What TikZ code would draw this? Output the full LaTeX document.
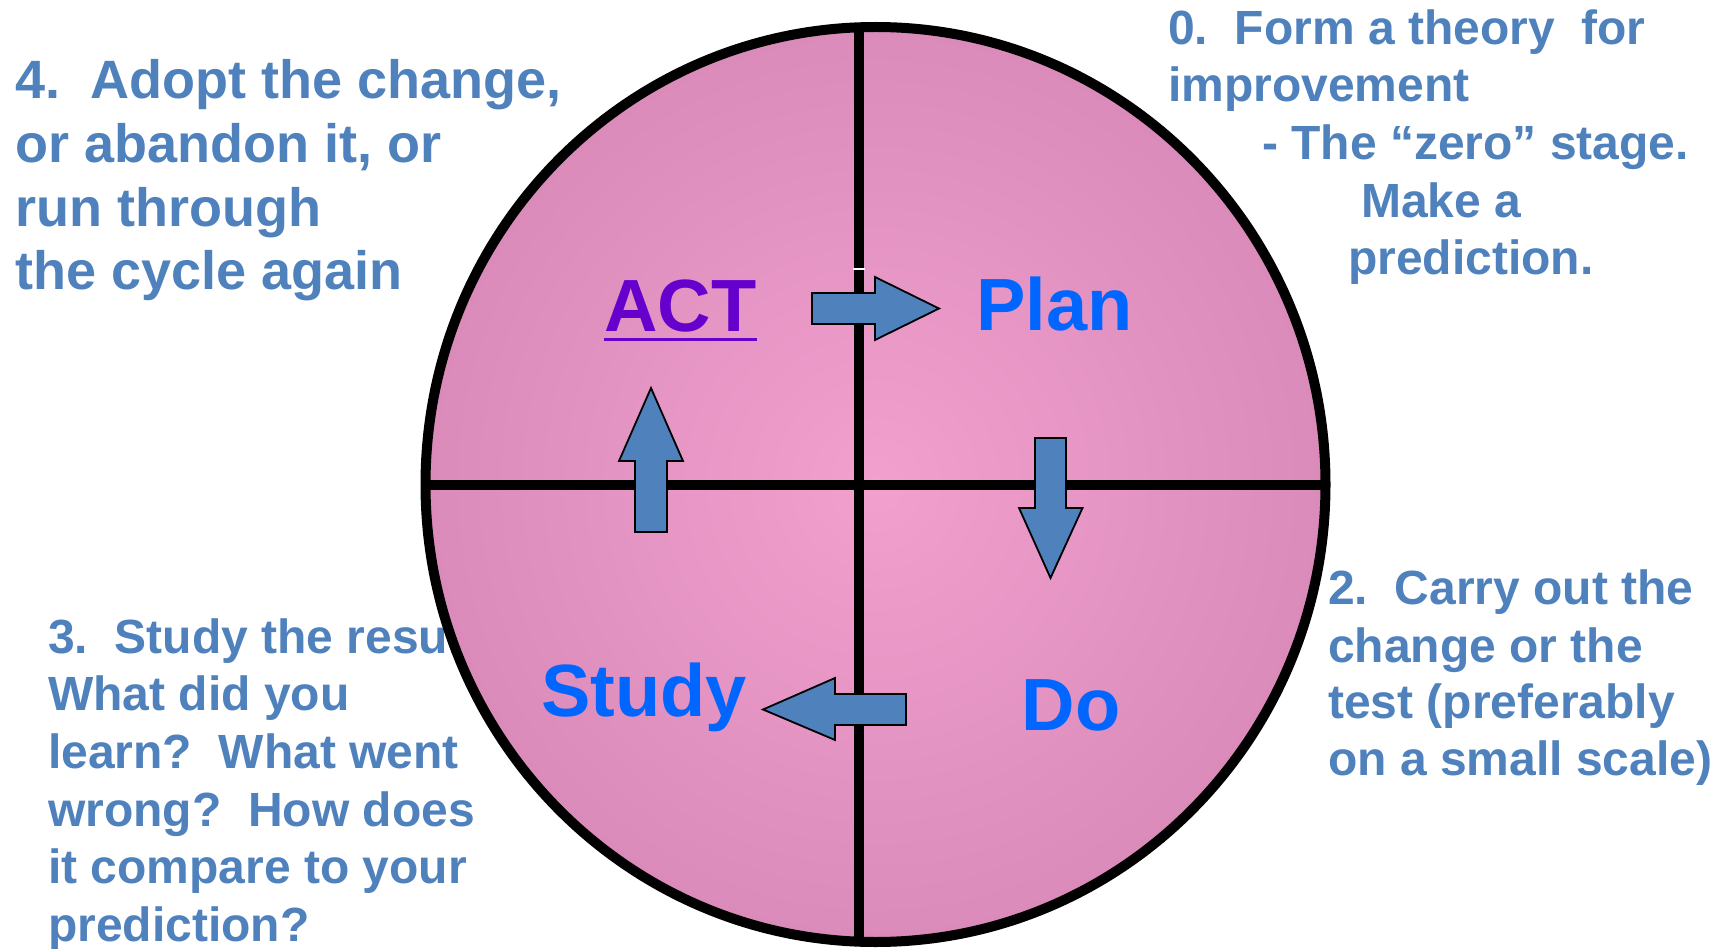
\documentclass[tikz,border=0pt]{standalone}
\usepackage{fontspec}
\setmainfont{Liberation Sans}
\definecolor{noteblue}{RGB}{79,129,189}
\definecolor{arrowblue}{RGB}{79,129,189}
\definecolor{stageblue}{RGB}{0,102,255}
\definecolor{actpurple}{RGB}{102,0,204}
\definecolor{pinkin}{RGB}{242,160,206}
\definecolor{pinkout}{RGB}{218,139,186}
\begin{document}
\begin{tikzpicture}[x=1pt,y=-1pt,
  note/.style={anchor=base west, inner sep=0pt, text=noteblue,
    font=\bfseries\fontsize{48}{57}\selectfont},
  bignote/.style={note, font=\bfseries\fontsize{54}{64}\selectfont},
  stage/.style={anchor=base, inner sep=0pt, font=\bfseries\fontsize{74}{80}\selectfont},
  blockarrow/.style={draw=black, line width=1.8pt, fill=arrowblue, line join=miter},
  divider/.style={draw=black, line width=10pt},
  rim/.style={draw=black, line width=10pt}]
\useasboundingbox (0,0) rectangle (1726,949);
\fill[white] (0,0) rectangle (1726,949);

% step 3 text sits partly beneath the wheel
\node[note] (s3a) at (48,653) {3.\ \ Study the results.};
\node[note] (s3b) at (48,710) {What did you};
\node[note] (s3c) at (48,768) {learn?\ \ What went};
\node[note] (s3d) at (48,826) {wrong?\ \ How does};
\node[note] (s3e) at (48,883) {it compare to your};
\node[note] (s3f) at (48,941) {prediction?};

% the wheel
\shade[inner color=pinkin, outer color=pinkout]
  (875.5,484.5) ellipse [x radius=450, y radius=457.5];
\begin{scope}
  \clip (875.5,484.5) ellipse [x radius=450, y radius=457.5];
  \draw[divider] (859,0) -- (859,949);
  \draw[divider] (400,485) -- (1350,485);
\end{scope}
\draw[white, line width=1.2pt] (853,269) -- (865,269);
\draw[rim] (875.5,484.5) ellipse [x radius=450, y radius=457.5];

% block arrows between the quadrants
\draw[blockarrow] (812,293) -- (875,293) -- (875,277) -- (939,308.5)
  -- (875,340) -- (875,324) -- (812,324) -- cycle;
\draw[blockarrow] (1035,438) -- (1066,438) -- (1066,508) -- (1082.5,508)
  -- (1050.5,578) -- (1019,508) -- (1035,508) -- cycle;
\draw[blockarrow] (906,694) -- (835,694) -- (835,678) -- (763,709.5)
  -- (835,740) -- (835,725) -- (906,725) -- cycle;
\draw[blockarrow] (635,532) -- (635,461) -- (619,461) -- (651,388)
  -- (683,461) -- (667,461) -- (667,532) -- cycle;

% quadrant labels
\node[stage, text=actpurple] (act) at (680.5,332) {ACT};
\draw[actpurple, line width=3pt] ([yshift=-8pt]act.base west) -- ([yshift=-8pt]act.base east);
\node[stage, text=stageblue] (plan) at (1054.5,331) {Plan};
\node[stage, text=stageblue] (study) at (644,716) {Study};
\node[stage, text=stageblue] (do) at (1071,730) {Do};

% step 4
\node[bignote] (s4a) at (15,99) {4.\ \ Adopt the change,};
\node[bignote] (s4b) at (15,163) {or abandon it, or};
\node[bignote] (s4c) at (15,227) {run through};
\node[bignote] (s4d) at (15,290) {the cycle again};

% step 0
\node[note] (s0a) at (1168,45) {0.\ \ Form a theory\ \ for};
\node[note] (s0b) at (1168,102) {improvement};
\node[note] (s0c) at (1262,160) {- The “zero” stage.};
\node[note] (s0d) at (1361,218) {Make a};
\node[note] (s0e) at (1348,275) {prediction.};

% step 2
\node[note] (s2a) at (1328,604) {2.\ \ Carry out the};
\node[note] (s2b) at (1328,662) {change or the};
\node[note] (s2c) at (1328,718) {test (preferably};
\node[note] (s2d) at (1328,775) {on a small scale)};
\end{tikzpicture}
\end{document}
